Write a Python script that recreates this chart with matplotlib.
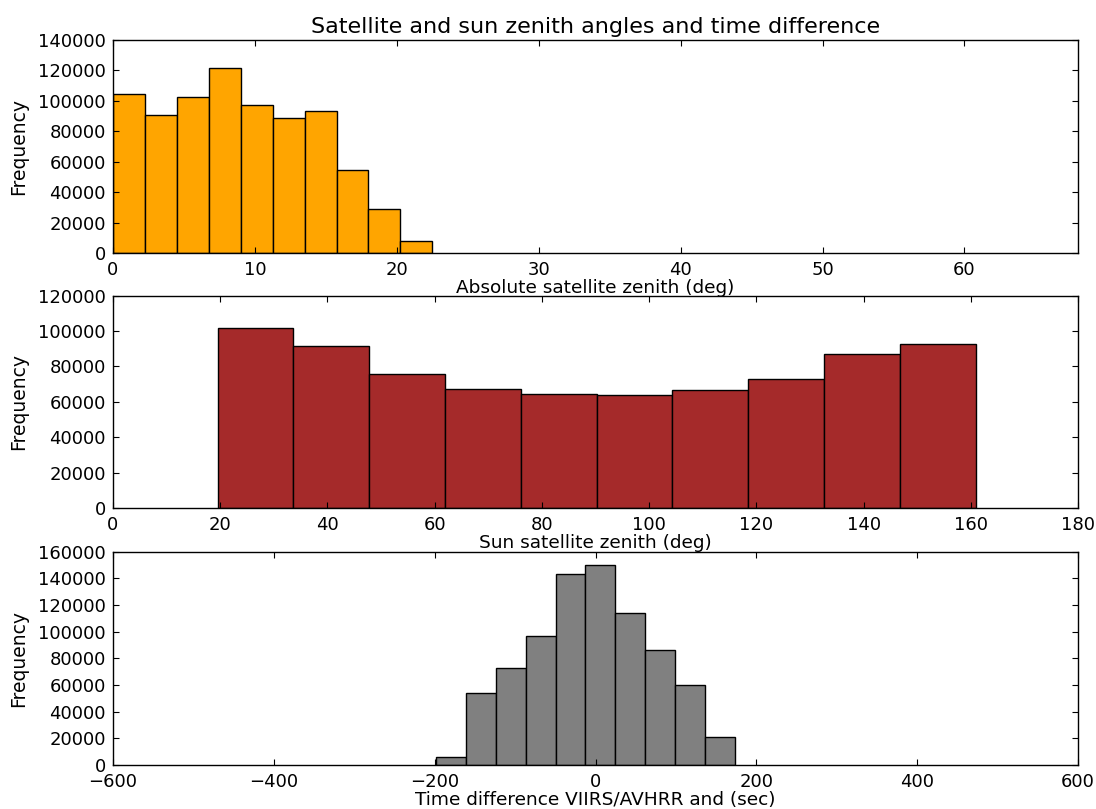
import numpy as np
import matplotlib
matplotlib.use("Agg")
import matplotlib.pyplot as plt
from matplotlib.ticker import MultipleLocator

# ---- data ----
sat_zenith_start = 0.0
sat_zenith_width = 2.25
sat_zenith_counts = [104600, 90800, 102400, 121400, 97300, 88600, 93400, 54700, 29100, 7650]

sun_zenith_start = 19.5
sun_zenith_width = 14.14
sun_zenith_counts = [101800, 91500, 75600, 67400, 64400, 64000, 66600, 73000, 87000, 92900]

tdiff_start = -198.0
tdiff_width = 37.1
tdiff_counts = [6350, 53800, 72400, 96500, 143500, 149900, 113800, 86400, 59700, 21100]

title = "Satellite and sun zenith angles and time difference"
xlabels = ["Absolute satellite zenith (deg)", "Sun satellite zenith (deg)",
           "Time difference VIIRS/AVHRR and (sec)"]
colors = ["orange", "brown", "gray"]
xlims = [(0, 68), (0, 180), (-600, 600)]
ylims = [(0, 140000), (0, 120000), (0, 160000)]

plt.rcParams.update({
    "font.family": ["DejaVu Sans"],
    "font.size": 13,
    "xtick.direction": "in",
    "ytick.direction": "in",
    "xtick.top": True,
    "ytick.right": True,
    "xtick.major.size": 4,
    "ytick.major.size": 4,
    "xtick.major.pad": 6,
    "ytick.major.pad": 5,
    "axes.linewidth": 1.0,
    "axes.unicode_minus": True,
})

fig = plt.figure(figsize=(10.96, 8.09), dpi=100)
positions = [
    [0.1031, 0.6873, 0.8805, 0.2633],
    [0.1031, 0.3721, 0.8805, 0.2625],
    [0.1031, 0.0544, 0.8805, 0.2636],
]

datasets = [
    (sat_zenith_start, sat_zenith_width, sat_zenith_counts),
    (sun_zenith_start, sun_zenith_width, sun_zenith_counts),
    (tdiff_start, tdiff_width, tdiff_counts),
]

for i, (start, width, counts) in enumerate(datasets):
    ax = fig.add_axes(positions[i])
    edges = start + width * np.arange(len(counts) + 1)
    centers = 0.5 * (edges[:-1] + edges[1:])
    ax.hist(centers, bins=edges, weights=counts, color=colors[i],
            edgecolor="black", linewidth=1.0)
    ax.set_xlim(*xlims[i])
    ax.set_ylim(*ylims[i])
    ax.yaxis.set_major_locator(MultipleLocator(20000))
    ax.set_ylabel("Frequency", fontsize=13.5, labelpad=7)
    ax.set_xlabel(xlabels[i], fontsize=13.3, labelpad=0)
    ax.tick_params(labelsize=13)
    if i == 0:
        ax.set_title(title, fontsize=16, pad=5)

fig.savefig("out.png", dpi=100, facecolor="white")
